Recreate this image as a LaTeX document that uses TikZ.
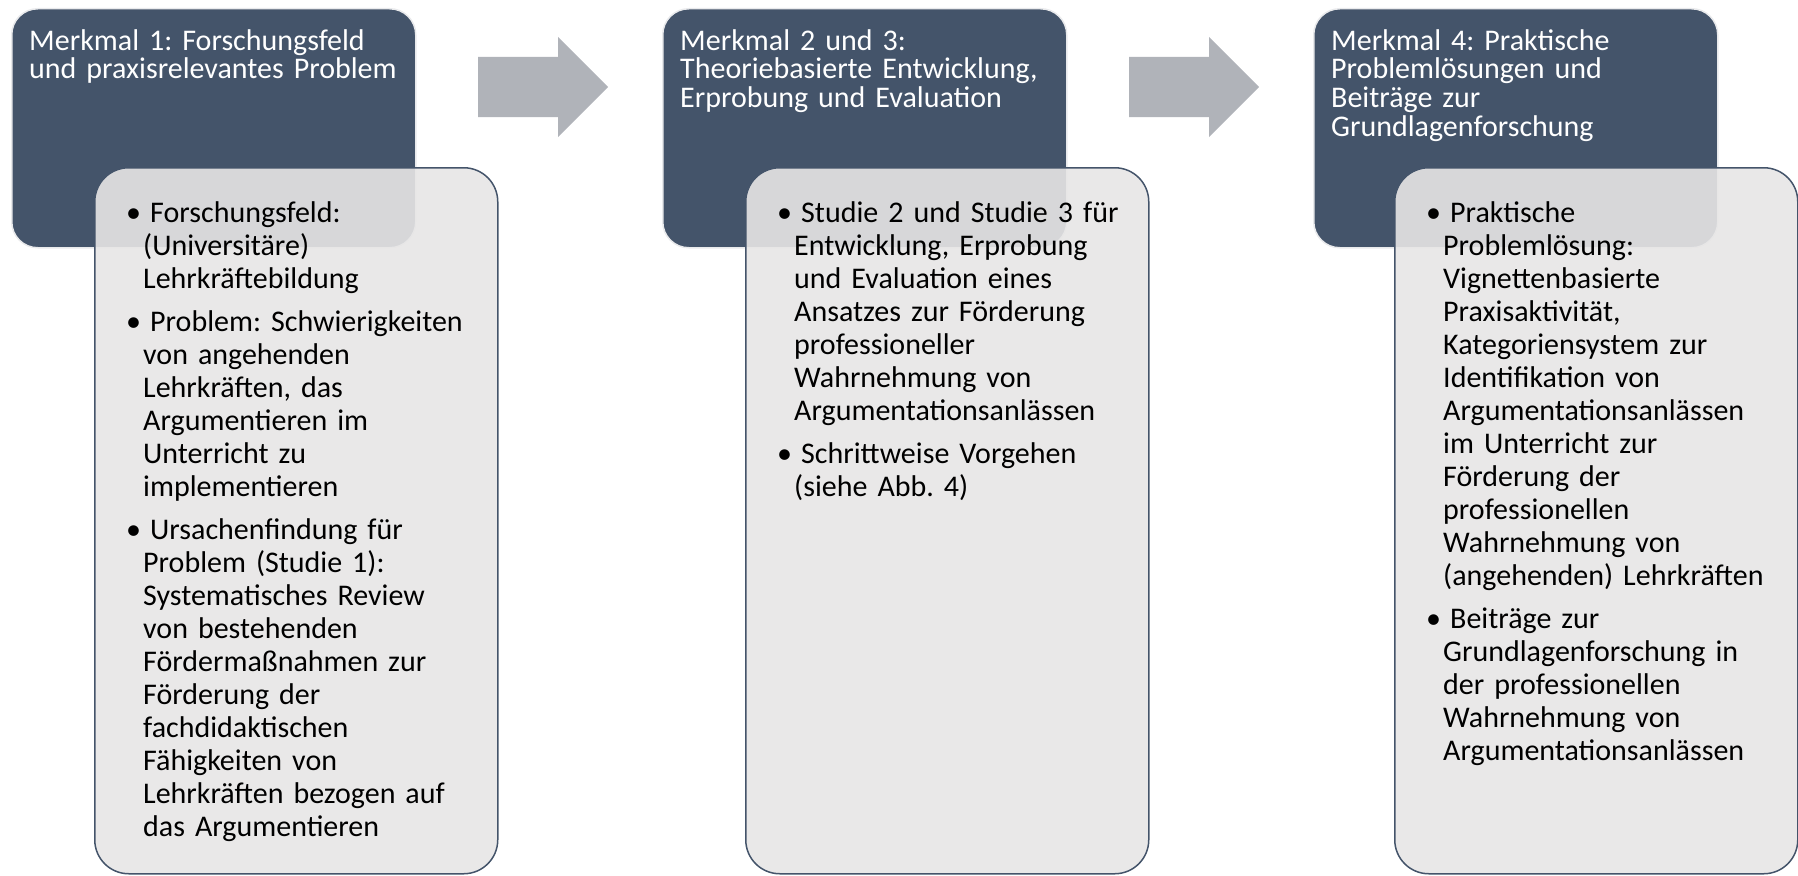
\documentclass[tikz,border=0pt]{standalone}
\usepackage{fontspec}
\setmainfont{Carlito}
\usetikzlibrary{positioning}
\frenchspacing
\definecolor{headblue}{HTML}{44546A}
\definecolor{bodygray}{HTML}{E7E6E6}
\definecolor{arrowgray}{HTML}{B0B3B9}
\definecolor{halogray}{HTML}{E9EAEC}
\newcommand{\bitem}[1]{\hangindent=17pt\hangafter=1\noindent\makebox[17pt][l]{\textbullet}\hspace{7pt}#1\par\vspace{10pt}}

\begin{document}
\begin{tikzpicture}[x=1pt, y=-1pt,
  headbox/.style={draw=halogray, line width=1.5pt, fill=headblue, rounded corners=26pt, minimum width=404pt, minimum height=239pt, anchor=north west, inner sep=0pt},
  bodybox/.style={draw=headblue, line width=1.5pt, fill=bodygray, fill opacity=0.9, rounded corners=34pt, minimum width=403pt, minimum height=706pt, anchor=north west, inner sep=0pt},
  headtext/.style={text=white, anchor=north west, inner sep=0pt, text width=380pt, align=left, font=\fontsize{30}{28.7}\selectfont},
  bodytext/.style={text=black, anchor=north west, inner sep=0pt, text width=370pt, align=left, font=\fontsize{30}{33}\selectfont},
  blockarrow/.style={fill=arrowgray}]

\useasboundingbox (0,0) rectangle (1798,875);

%nodes
\node [headbox] (head1) at (11,8) {};
\node [headbox] (head2) at (662,8) {};
\node [headbox] (head3) at (1313,8) {};

\node [bodybox] (body1) at (94,167) {};
\node [bodybox] (body2) at (745,167) {};
\node [bodybox] (body3) at (1394,167) {};

\node [headtext] (title1) at ([shift={(18,21)}]head1.north west) {Merkmal 1: Forschungsfeld\\und praxisrelevantes Problem};
\node [headtext] (title2) at ([shift={(18,21)}]head2.north west) {Merkmal 2 und 3:\\Theoriebasierte Entwicklung,\\Erprobung und Evaluation};
\node [headtext] (title3) at ([shift={(18,21)}]head3.north west) {Merkmal 4: Praktische\\Problemlösungen und\\Beiträge zur\\Grundlagenforschung};

\node [bodytext] (list1) at ([shift={(32,34)}]body1.north west) {%
  \bitem{Forschungsfeld:\newline (Universitäre)\newline Lehrkräftebildung}
  \bitem{Problem: Schwierigkeiten\newline von angehenden\newline Lehrkräften, das\newline Argumentieren im\newline Unterricht zu\newline implementieren}
  \bitem{Ursachenfindung für\newline Problem (Studie 1):\newline Systematisches Review\newline von bestehenden\newline Fördermaßnahmen zur\newline Förderung der\newline fachdidaktischen\newline Fähigkeiten von\newline Lehrkräften bezogen auf\newline das Argumentieren}};
\node [bodytext] (list2) at ([shift={(32,34)}]body2.north west) {%
  \bitem{Studie 2 und Studie 3 für\newline Entwicklung, Erprobung\newline und Evaluation eines\newline Ansatzes zur Förderung\newline professioneller\newline Wahrnehmung von\newline Argumentationsanlässen}
  \bitem{Schrittweise Vorgehen\newline (siehe Abb. 4)}};
\node [bodytext] (list3) at ([shift={(32,34)}]body3.north west) {%
  \bitem{Praktische\newline Problemlösung:\newline Vignettenbasierte\newline Praxisaktivität,\newline Kategoriensystem zur\newline Identifikation von\newline Argumentationsanlässen\newline im Unterricht zur\newline Förderung der\newline professionellen\newline Wahrnehmung von\newline (angehenden) Lehrkräften}
  \bitem{Beiträge zur\newline Grundlagenforschung in\newline der professionellen\newline Wahrnehmung von\newline Argumentationsanlässen}};

%arrows
\foreach \dx in {0,651}
  \fill [blockarrow, xshift=\dx pt] (478,57) -- (558,57) -- (558,37) -- (608,87) -- (558,137) -- (558,117) -- (478,117) -- cycle;

\end{tikzpicture}
\end{document}
